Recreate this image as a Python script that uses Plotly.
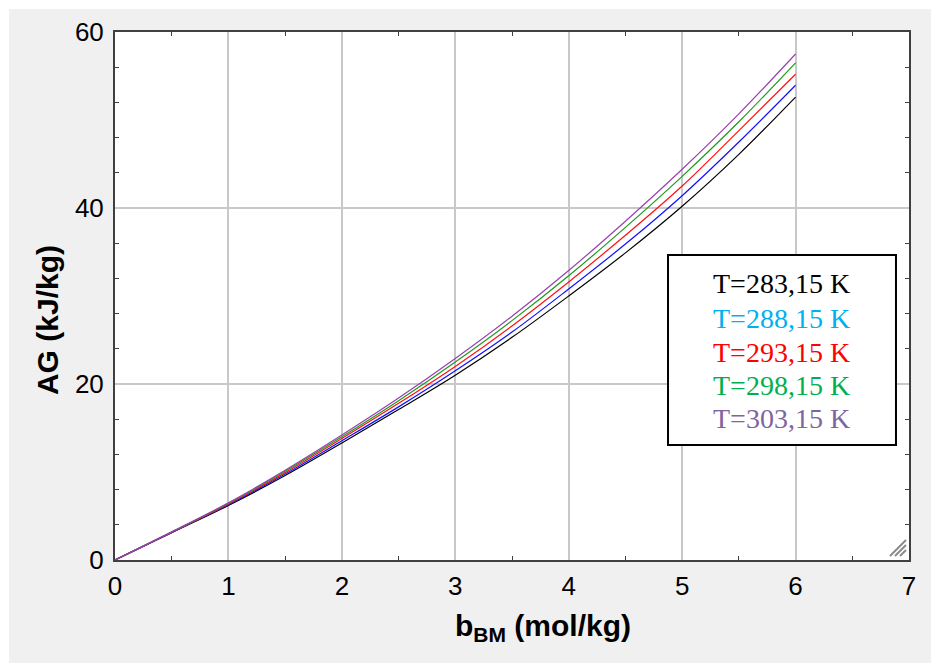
import plotly.graph_objects as go

# molality of the solution, mol/kg
b_bm = [0, 0.5, 1.0, 1.5, 2.0, 2.5, 3.0, 3.5, 4.0, 4.5, 5.0, 5.5, 6.0]

# AG values (kJ/kg) for each temperature
ag_283 = [0, 3.10, 6.20, 9.60, 13.30, 17.10, 21.00, 25.30, 30.00, 34.90, 40.20, 46.10, 52.60]
ag_288 = [0, 3.13, 6.28, 9.77, 13.55, 17.40, 21.50, 25.90, 30.80, 35.90, 41.40, 47.50, 53.95]
ag_293 = [0, 3.15, 6.36, 9.93, 13.80, 17.80, 22.00, 26.60, 31.60, 36.90, 42.50, 48.80, 55.20]
ag_298 = [0, 3.18, 6.44, 10.08, 14.00, 18.10, 22.50, 27.20, 32.30, 37.80, 43.60, 49.80, 56.50]
ag_303 = [0, 3.20, 6.50, 10.20, 14.20, 18.40, 22.90, 27.70, 32.90, 38.50, 44.40, 50.70, 57.50]

labels = ["T=283,15 K", "T=288,15 K", "T=293,15 K", "T=298,15 K", "T=303,15 K"]
series = [ag_283, ag_288, ag_293, ag_298, ag_303]
line_colors = ["#000000", "#1010ff", "#ff1010", "#1a9a1a", "#9a3fb0"]
text_colors = ["#000000", "#00b0f0", "#ff0000", "#00b050", "#8064a2"]

fig = go.Figure()
for name, ys, c in zip(labels, series, line_colors):
    fig.add_trace(go.Scatter(x=b_bm, y=ys, mode="lines", name=name,
                             line=dict(color=c, width=1.2, shape="spline")))

axis_common = dict(
    showline=True, linecolor="#404040", linewidth=2, mirror="ticks",
    showgrid=True, gridcolor="#c8c8c8", gridwidth=1.5,
    ticks="", zeroline=False,
    tickfont=dict(family="Liberation Sans, Arial", size=26, color="#000000"),
)

fig.update_xaxes(range=[0, 7], dtick=1, tick0=0,
                 minor=dict(ticks="inside", dtick=0.5, ticklen=4,
                            tickcolor="#404040", tickwidth=1, showgrid=False),
                 ticklabelstandoff=2, **axis_common)
fig.update_yaxes(range=[0, 60], dtick=20, tick0=0,
                 minor=dict(ticks="inside", dtick=4, ticklen=4,
                            tickcolor="#404040", tickwidth=1, showgrid=False),
                 ticklabelstandoff=4, **axis_common)

annotations = [
    dict(text="<b>b<sub>BM</sub> (mol/kg)</b>", x=0.539, y=-0.127, xref="paper", yref="paper",
         showarrow=False, font=dict(family="Liberation Sans, Arial", size=30, color="#000000"),
         xanchor="center", yanchor="middle"),
    dict(text="<b>AG (kJ/kg)</b>", x=-0.0856, y=0.4545, xref="paper", yref="paper",
         showarrow=False, textangle=-90,
         font=dict(family="Liberation Sans, Arial", size=30, color="#000000"),
         xanchor="center", yanchor="middle"),
]
row_y = [0.5246, 0.4583, 0.3939, 0.3314, 0.2689]
for name, c, yy in zip(labels, text_colors, row_y):
    annotations.append(dict(text=name, x=0.840, y=yy, xref="paper", yref="paper",
                            showarrow=False, xanchor="center", yanchor="middle",
                            font=dict(family="Liberation Serif, Times New Roman", size=28, color=c)))

shapes = [
    # white strips framing the grey panel
    dict(type="rect", xref="paper", yref="paper", x0=-0.2, x1=-0.1335, y0=-0.3, y1=1.2,
         fillcolor="#ffffff", line=dict(width=0), layer="below"),
    dict(type="rect", xref="paper", yref="paper", x0=-0.2, x1=1.2, y0=1.0436, y1=1.2,
         fillcolor="#ffffff", line=dict(width=0), layer="below"),
    # legend box
    dict(type="rect", xref="paper", yref="paper", x0=0.6965, x1=0.9836, y0=0.2178, y1=0.5777,
         fillcolor="#ffffff", line=dict(color="#000000", width=2)),
]
# resize grip in the lower right corner
for k in range(3):
    shapes.append(dict(type="line", xref="paper", yref="paper",
                       x0=(890 + 5 * k - 115) / 794, y0=(560 - 556) / 528,
                       x1=(906 - 115) / 794, y1=(560 - 540 - 5 * k) / 528,
                       line=dict(color="#8a8a8a", width=2)))

fig.update_layout(
    width=931, height=663,
    margin=dict(l=115, r=22, t=32, b=103),
    paper_bgcolor="#f0f0f0", plot_bgcolor="#ffffff",
    showlegend=False,
    annotations=annotations, shapes=shapes,
)

fig.write_html("out.html")
